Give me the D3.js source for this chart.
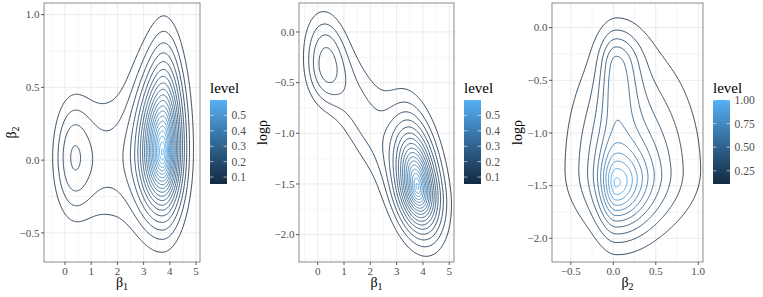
<!DOCTYPE html>
<html>
<head>
<meta charset="utf-8">
<script src="https://cdn.jsdelivr.net/npm/d3@7"></script>
<style>
body { margin: 0; background: #fff; }
</style>
</head>
<body>
<svg id="chart" width="763" height="297" font-family="'Liberation Serif', 'Times New Roman', serif"></svg>
<script>
// 三个面板的密度由若干个"峰"叠加而成, 每个峰的参数从图上读出
// mx,my 中心; amp 峰高; sxL/sxR 左右宽度; syD/syU 上下宽度; p 形状; kx,ky 倾斜
var lobes1 = [
    {mx: 3.72, my: 0.05, amp: 0.575, sxL: 0.64, sxR: 0.5, syD: 0.29, syU: 0.36, p: 1.4},
    {mx: 3.8, my: 0.45, amp: 0.06, sxL: 0.4, sxR: 0.45, syD: 0.35, syU: 0.35, p: 2},
    {mx: 0.25, my: 0.02, amp: 0.112, sxL: 0.55, sxR: 0.55, syD: 0.3, syU: 0.3, p: 2},
    {mx: 1.5, my: 0.0, amp: 0.08, sxL: 0.9, sxR: 0.9, syD: 0.35, syU: 0.35, p: 2}
];
var lobes2 = [
    {mx: 3.79, my: -1.53, amp: 0.52, sxL: 0.55, sxR: 0.55, syD: 0.3, syU: 0.42, p: 1.4, kx: -0.5},
    {mx: 1.5, my: -0.75, amp: 0.09, sxL: 1.2, sxR: 1.0, syD: 0.38, syU: 0.42, p: 2, ky: -0.34},
    {mx: 0.25, my: -0.33, amp: 0.105, sxL: 0.55, sxR: 0.55, syD: 0.28, syU: 0.34, p: 2}
];
var lobes3 = [
    {mx: 0.03, my: -1.49, amp: 0.62, sxL: 0.13, sxR: 0.26, syD: 0.3, syU: 0.25, p: 1.6},
    {mx: 0.12, my: -1.35, amp: 0.42, sxL: 0.42, sxR: 0.55, syD: 0.38, syU: 0.75, p: 2},
    {mx: 0.03, my: -0.35, amp: 0.34, sxL: 0.13, sxR: 0.19, syD: 0.45, syU: 0.22, p: 2}
];

// 等高线的 level
var levels1 = [0.055, 0.084, 0.112, 0.141, 0.170, 0.199, 0.227, 0.256, 0.285, 0.313,
               0.342, 0.371, 0.399, 0.428, 0.457, 0.486, 0.514, 0.543, 0.572, 0.600];
var levels2 = [0.055, 0.084, 0.112, 0.141, 0.170, 0.199, 0.227, 0.256, 0.285, 0.313,
               0.342, 0.371, 0.399, 0.428, 0.457, 0.486, 0.514, 0.543, 0.572, 0.600];
var levels3 = [0.110, 0.199, 0.288, 0.377, 0.466, 0.555, 0.644, 0.733, 0.822, 0.911, 1.000];

// 坐标轴刻度
var xTicks1 = [0, 1, 2, 3, 4, 5];
var yTicks1 = [-0.5, 0.0, 0.5, 1.0];
var xTicks2 = [0, 1, 2, 3, 4, 5];
var yTicks2 = [-2.0, -1.5, -1.0, -0.5, 0.0];
var xTicks3 = [-0.5, 0.0, 0.5, 1.0];
var yTicks3 = [-2.0, -1.5, -1.0, -0.5, 0.0];
var legendTicks1 = [0.1, 0.2, 0.3, 0.4, 0.5];
var legendTicks2 = [0.1, 0.2, 0.3, 0.4, 0.5];
var legendTicks3 = [0.25, 0.50, 0.75, 1.00];

var panels = [
    {left: 44, right: 200, xDom: [-0.8, 5.15], yDom: [-0.70, 1.08], lobes: lobes1, levels: levels1,
     xTicks: xTicks1, yTicks: yTicks1, xFmt: d3.format("d"), yFmt: d3.format(".1f"),
     xTitle: ["β", "1"], yTitle: ["β", "2"], yTitleX: 16, legX: 210, legTicks: legendTicks1, legFmt: d3.format(".1f")},
    {left: 299, right: 454, xDom: [-0.71, 5.18], yDom: [-2.27, 0.286], lobes: lobes2, levels: levels2,
     xTicks: xTicks2, yTicks: yTicks2, xFmt: d3.format("d"), yFmt: d3.format(".1f"),
     xTitle: ["β", "1"], yTitle: ["logρ"], yTitleX: 267, legX: 464, legTicks: legendTicks2, legFmt: d3.format(".1f")},
    {left: 552, right: 703, xDom: [-0.722, 1.056], yDom: [-2.225, 0.234], lobes: lobes3, levels: levels3,
     xTicks: xTicks3, yTicks: yTicks3, xFmt: d3.format(".1f"), yFmt: d3.format(".1f"),
     xTitle: ["β", "2"], yTitle: ["logρ"], yTitleX: 522, legX: 713, legTicks: legendTicks3, legFmt: d3.format(".2f")}
];

var TOP = 3, BOTTOM = 262;
var LOW = "#132B43", HIGH = "#56B1F7";
var svg = d3.select("#chart");

function minus(s) { return s.replace("-", "\u2212"); }

function density(lobes, x, y) {
    var s = 0;
    lobes.forEach(function(L) {
        var dx = x - L.mx, dy = y - L.my;
        var u = dx - (L.kx || 0) * dy, v = dy - (L.ky || 0) * dx;
        var zu = u / (u < 0 ? L.sxL : L.sxR), zv = v / (v < 0 ? L.syD : L.syU);
        var r = Math.sqrt(zu * zu + zv * zv);
        s += L.amp * Math.exp(-Math.pow(r, L.p) / L.p);
    });
    return s;
}

panels.forEach(function(P, pi) {
    var x = d3.scaleLinear().domain(P.xDom).range([P.left, P.right]);
    var y = d3.scaleLinear().domain(P.yDom).range([BOTTOM, TOP]);
    var g = svg.append("g");

    // 面板背景和网格
    g.append("rect").attr("x", P.left).attr("y", TOP)
        .attr("width", P.right - P.left).attr("height", BOTTOM - TOP).attr("fill", "white");
    var xs = P.xTicks[1] - P.xTicks[0], ys = P.yTicks[1] - P.yTicks[0];
    var xMinor = d3.range(P.xTicks[0] - xs / 2, P.xDom[1], xs).filter(function(v) { return v > P.xDom[0]; });
    var yMinor = d3.range(P.yTicks[0] - ys / 2, P.yDom[1], ys).filter(function(v) { return v > P.yDom[0]; });
    g.selectAll(".xm").data(xMinor).enter().append("line")
        .attr("x1", function(d) { return x(d); }).attr("x2", function(d) { return x(d); })
        .attr("y1", TOP).attr("y2", BOTTOM).attr("stroke", "#ebebeb").attr("stroke-width", 0.5);
    g.selectAll(".ym").data(yMinor).enter().append("line")
        .attr("y1", function(d) { return y(d); }).attr("y2", function(d) { return y(d); })
        .attr("x1", P.left).attr("x2", P.right).attr("stroke", "#ebebeb").attr("stroke-width", 0.5);
    g.selectAll(".xg").data(P.xTicks).enter().append("line")
        .attr("x1", function(d) { return x(d); }).attr("x2", function(d) { return x(d); })
        .attr("y1", TOP).attr("y2", BOTTOM).attr("stroke", "#ebebeb").attr("stroke-width", 1);
    g.selectAll(".yg").data(P.yTicks).enter().append("line")
        .attr("y1", function(d) { return y(d); }).attr("y2", function(d) { return y(d); })
        .attr("x1", P.left).attr("x2", P.right).attr("stroke", "#ebebeb").attr("stroke-width", 1);

    // 密度网格 -> 等高线
    var nx = 240, ny = 240;
    var gx0 = P.xDom[0] - 0.3 * (P.xDom[1] - P.xDom[0]), gx1 = P.xDom[1] + 0.3 * (P.xDom[1] - P.xDom[0]);
    var gy0 = P.yDom[0] - 0.3 * (P.yDom[1] - P.yDom[0]), gy1 = P.yDom[1] + 0.3 * (P.yDom[1] - P.yDom[0]);
    var hx = (gx1 - gx0) / (nx - 1), hy = (gy1 - gy0) / (ny - 1);
    var values = new Array(nx * ny);
    for (var j = 0; j < ny; j++) {
        for (var i = 0; i < nx; i++) {
            values[j * nx + i] = density(P.lobes, gx0 + i * hx, gy0 + j * hy);
        }
    }
    var contours = d3.contours().size([nx, ny]).thresholds(P.levels)(values);
    var color = d3.scaleLinear().domain(d3.extent(P.levels)).range([LOW, HIGH]).interpolate(d3.interpolateLab);
    var path = d3.geoPath(d3.geoTransform({
        point: function(X, Y) {
            this.stream.point(x(gx0 + (X - 0.5) * hx), y(gy0 + (Y - 0.5) * hy));
        }
    }));
    var clipId = "clip" + pi;
    svg.append("clipPath").attr("id", clipId).append("rect")
        .attr("x", P.left).attr("y", TOP).attr("width", P.right - P.left).attr("height", BOTTOM - TOP);
    g.append("g").attr("clip-path", "url(#" + clipId + ")")
        .selectAll("path").data(contours).enter().append("path")
        .attr("d", path).attr("fill", "none")
        .attr("stroke", function(d) { return color(d.value); })
        .attr("stroke-width", 0.85);

    // 边框
    g.append("rect").attr("x", P.left).attr("y", TOP)
        .attr("width", P.right - P.left).attr("height", BOTTOM - TOP)
        .attr("fill", "none").attr("stroke", "#333333").attr("stroke-width", 0.8).attr("opacity", 0.7);

    // 刻度线和标签
    g.selectAll(".xt").data(P.xTicks).enter().append("line")
        .attr("x1", function(d) { return x(d); }).attr("x2", function(d) { return x(d); })
        .attr("y1", BOTTOM).attr("y2", BOTTOM + 3).attr("stroke", "#333333").attr("stroke-width", 0.8);
    g.selectAll(".yt").data(P.yTicks).enter().append("line")
        .attr("y1", function(d) { return y(d); }).attr("y2", function(d) { return y(d); })
        .attr("x1", P.left - 3).attr("x2", P.left).attr("stroke", "#333333").attr("stroke-width", 0.8);
    g.selectAll(".xl").data(P.xTicks).enter().append("text")
        .attr("x", function(d) { return x(d); }).attr("y", BOTTOM + 12.5)
        .attr("text-anchor", "middle").attr("font-size", 11).attr("fill", "#4d4d4d")
        .text(function(d) { return minus(P.xFmt(d)); });
    g.selectAll(".yl").data(P.yTicks).enter().append("text")
        .attr("x", P.left - 4.5).attr("y", function(d) { return y(d); }).attr("dy", "0.35em")
        .attr("text-anchor", "end").attr("font-size", 11).attr("fill", "#4d4d4d")
        .text(function(d) { return minus(P.yFmt(d)); });

    // 轴标题
    var cx = (P.left + P.right) / 2, cy = (TOP + BOTTOM) / 2;
    var xt = g.append("text").attr("x", cx).attr("y", 287).attr("text-anchor", "middle").attr("font-size", 14);
    xt.append("tspan").text(P.xTitle[0]);
    xt.append("tspan").attr("font-size", 10).attr("dy", 3).text(P.xTitle[1]);
    var yt = g.append("text").attr("transform", "translate(" + P.yTitleX + "," + cy + ") rotate(-90)")
        .attr("text-anchor", "middle").attr("font-size", 14);
    yt.append("tspan").text(P.yTitle[0]);
    if (P.yTitle[1]) yt.append("tspan").attr("font-size", 10).attr("dy", 3).text(P.yTitle[1]);

    // 图例
    var legTop = 100, legBottom = 184, legW = 17;
    var ly = d3.scaleLinear().domain(d3.extent(P.levels)).range([legBottom, legTop]);
    var gradId = "grad" + pi;
    var grad = svg.append("defs").append("linearGradient").attr("id", gradId)
        .attr("x1", 0).attr("y1", 1).attr("x2", 0).attr("y2", 0);
    d3.range(0, 1.001, 0.1).forEach(function(t) {
        grad.append("stop").attr("offset", t).attr("stop-color", d3.interpolateLab(LOW, HIGH)(t));
    });
    g.append("text").attr("x", P.legX).attr("y", 93).attr("font-size", 15).attr("fill", "black").text("level");
    g.append("rect").attr("x", P.legX).attr("y", legTop).attr("width", legW).attr("height", legBottom - legTop)
        .attr("fill", "url(#" + gradId + ")");
    P.legTicks.forEach(function(t) {
        g.append("line").attr("x1", P.legX).attr("x2", P.legX + 3.4).attr("y1", ly(t)).attr("y2", ly(t))
            .attr("stroke", "white").attr("stroke-width", 0.6);
        g.append("line").attr("x1", P.legX + legW - 3.4).attr("x2", P.legX + legW).attr("y1", ly(t)).attr("y2", ly(t))
            .attr("stroke", "white").attr("stroke-width", 0.6);
        g.append("text").attr("x", P.legX + legW + 4.5).attr("y", ly(t)).attr("dy", "0.35em")
            .attr("font-size", 11.5).attr("fill", "#4d4d4d").text(P.legFmt(t));
    });
});
</script>
</body>
</html>
